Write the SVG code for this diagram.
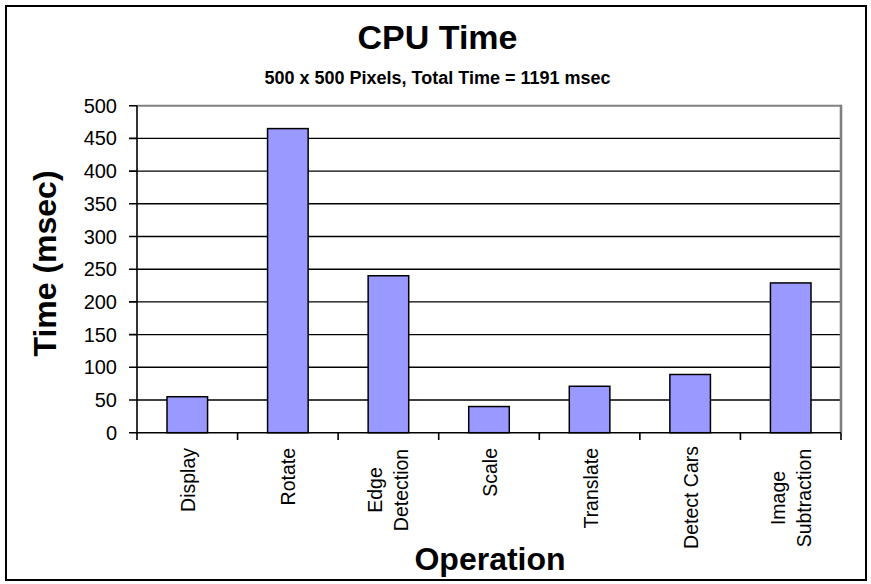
<svg xmlns="http://www.w3.org/2000/svg" width="871" height="584" viewBox="0 0 871 584">
<style>
.t{font-family:"Liberation Sans",Arial,sans-serif;fill:#000}
.title{font-size:34px;font-weight:bold;text-anchor:middle}
.sub{font-size:18px;font-weight:bold;text-anchor:middle}
.axt{font-size:32px;font-weight:bold;text-anchor:middle}
.yl{font-size:20px;text-anchor:end}
.cl{font-size:19.5px}
.grid{stroke:#000;stroke-width:1.4;fill:none}
.axis{stroke:#000;stroke-width:1.6;fill:none}
.bar{fill:#9999FF;stroke:#000;stroke-width:1.5}
</style>
<rect x="0" y="0" width="871" height="584" fill="#fff"/>
<rect id="frame" x="6" y="6" width="860" height="574" fill="#fff" stroke="#000" stroke-width="2"/>
<g id="titles">
<text class="t title" x="437.5" y="49">CPU Time</text>
<text class="t sub" x="437.5" y="84">500 x 500 Pixels, Total Time = 1191 msec</text>
<text class="t axt" transform="translate(56,263.5) rotate(-90)">Time (msec)</text>
<text class="t axt" x="490" y="570">Operation</text>
</g>
<g id="grid">
<line class="grid" x1="137" y1="400" x2="841" y2="400"/>
<line class="grid" x1="137" y1="367.3" x2="841" y2="367.3"/>
<line class="grid" x1="137" y1="334.6" x2="841" y2="334.6"/>
<line class="grid" x1="137" y1="301.9" x2="841" y2="301.9"/>
<line class="grid" x1="137" y1="269.2" x2="841" y2="269.2"/>
<line class="grid" x1="137" y1="236.5" x2="841" y2="236.5"/>
<line class="grid" x1="137" y1="203.8" x2="841" y2="203.8"/>
<line class="grid" x1="137" y1="171.1" x2="841" y2="171.1"/>
<line class="grid" x1="137" y1="138.4" x2="841" y2="138.4"/>
<line x1="137" y1="105.7" x2="841" y2="105.7" stroke="#808080" stroke-width="2"/>
<line x1="841" y1="104.7" x2="841" y2="432.7" stroke="#808080" stroke-width="2.6"/>
</g>
<g id="bars">
<rect id="bar-display" class="bar" x="167" y="396.73" width="40.57" height="35.97"/>
<rect id="bar-rotate" class="bar" x="267.57" y="128.59" width="40.57" height="304.11"/>
<rect id="bar-edge" class="bar" x="368.14" y="275.74" width="40.57" height="156.96"/>
<rect id="bar-scale" class="bar" x="468.71" y="406.54" width="40.57" height="26.16"/>
<rect id="bar-translate" class="bar" x="569.29" y="386.27" width="40.57" height="46.43"/>
<rect id="bar-detect" class="bar" x="669.86" y="374.49" width="40.57" height="58.21"/>
<rect id="bar-subtract" class="bar" x="770.43" y="282.93" width="40.57" height="149.77"/>
</g>
<g id="axes">
<line class="axis" x1="137" y1="105.7" x2="137" y2="433.5"/>
<line class="axis" x1="136.2" y1="432.7" x2="841" y2="432.7"/>
<path class="axis" d="M129 432.7H137M129 400H137M129 367.3H137M129 334.6H137M129 301.9H137M129 269.2H137M129 236.5H137M129 203.8H137M129 171.1H137M129 138.4H137M129 105.7H137"/>
<path class="axis" d="M137 432.7V440M237.57 432.7V440M338.14 432.7V440M438.71 432.7V440M539.29 432.7V440M639.86 432.7V440M740.43 432.7V440M841 432.7V440"/>
</g>
<g id="ylabels">
<text class="t yl" x="117" y="439.7">0</text>
<text class="t yl" x="117" y="407">50</text>
<text class="t yl" x="117" y="374.3">100</text>
<text class="t yl" x="117" y="341.6">150</text>
<text class="t yl" x="117" y="308.9">200</text>
<text class="t yl" x="117" y="276.2">250</text>
<text class="t yl" x="117" y="243.5">300</text>
<text class="t yl" x="117" y="210.8">350</text>
<text class="t yl" x="117" y="178.1">400</text>
<text class="t yl" x="117" y="145.4">450</text>
<text class="t yl" x="117" y="112.7">500</text>
</g>
<g id="xlabels">
<text class="t cl" text-anchor="end" transform="translate(194.8,448) rotate(-90)">Display</text>
<text class="t cl" text-anchor="end" transform="translate(295.4,448) rotate(-90)">Rotate</text>
<text class="t cl" text-anchor="middle" transform="translate(382.4,490) rotate(-90)">Edge</text>
<text class="t cl" text-anchor="middle" transform="translate(408.4,490) rotate(-90)">Detection</text>
<text class="t cl" text-anchor="end" transform="translate(497,448) rotate(-90)">Scale</text>
<text class="t cl" text-anchor="end" transform="translate(598,448) rotate(-90)">Translate</text>
<text class="t cl" text-anchor="end" transform="translate(698,446) rotate(-90)">Detect Cars</text>
<text class="t cl" text-anchor="middle" transform="translate(784.7,498) rotate(-90)">Image</text>
<text class="t cl" text-anchor="middle" transform="translate(810.7,498) rotate(-90)">Subtraction</text>
</g>
</svg>
